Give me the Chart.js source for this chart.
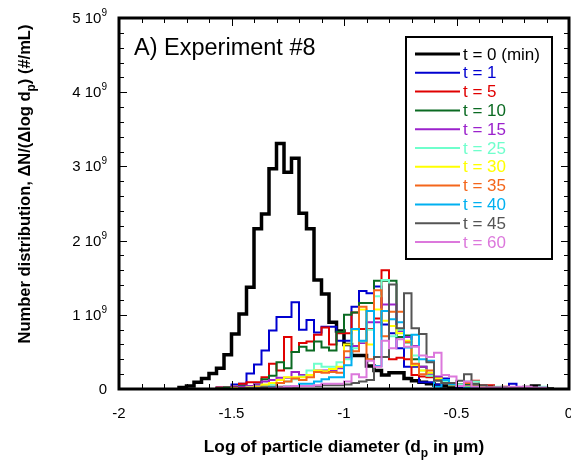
<!DOCTYPE html>
<html>
<head>
<meta charset="utf-8">
<script src="https://cdn.jsdelivr.net/npm/chart.js@4.4.0/dist/chart.umd.min.js"></script>
<style>
    body { margin: 0; background: #fff; }
    #wrap { width: 571px; height: 461px; }
</style>
</head>
<body>
<div id="wrap"><canvas id="psd-chart" width="571" height="461"></canvas></div>
<script>
// Size bins: 30 per decade of log(dp), first plotted bin starts at -1.7333
const firstBinLog = -2 + 8 / 30;
const binWidthLog = 1 / 30;

const xTicks = [-2, -1.5, -1, -0.5, 0];
const yTicks = [0, 1, 2, 3, 4, 5];   // x 10^9 #/mL

const seriesLabels = ['t = 0 (min)', 't = 1', 't = 5', 't = 10', 't = 15', 't = 25',
    't = 30', 't = 35', 't = 40', 't = 45', 't = 60'];
const seriesColors = ['#000000', '#0000d0', '#e00000', '#0b6a22', '#9b22cc', '#6fffcc',
    '#ffff00', '#f4661b', '#00b0f0', '#555555', '#dc78dc'];

// dN/dlog dp in 10^9 #/mL, one value per bin
const t0 = [0.02, 0.04, 0.09, 0.14, 0.21, 0.28, 0.46, 0.74, 1.01, 1.37,
    2.16, 2.36, 2.97, 3.31, 2.92, 3.11, 2.37, 2.16, 1.47, 1.28,
    0.90, 0.78, 0.60, 0.45, 0.45, 0.31, 0.25, 0.19, 0.22, 0.22,
    0.14, 0.11, 0.09, 0.07, 0.05, 0.04, 0.03, 0.03, 0.02, 0.02,
    0.02, 0.01, 0.01, 0.01, 0.01, 0.01, 0.02, 0.04, 0.01, 0];
const t1 = [0, 0, 0, 0, 0, 0.02, 0.02, 0.06, 0.07, 0.21,
    0.33, 0.52, 0.79, 0.97, 0.97, 1.17, 0.80, 0.93, 0.76, 0.84,
    0.84, 0.65, 0.65, 1.11, 1.32, 1.29, 1.38, 0.87, 0.75, 0.55,
    0.30, 0.30, 0.09, 0.09, 0.06, 0.14, 0.05, 0.03, 0.03, 0.02,
    0.01, 0.02, 0.01, 0.01, 0.07, 0.01, 0.01, 0, 0.01, 0];
const t5 = [0, 0, 0, 0, 0, 0.02, 0.02, 0.03, 0.07, 0.09,
    0.09, 0.16, 0.34, 0.25, 0.70, 0.50, 0.62, 0.64, 0.73, 0.83,
    0.60, 0.75, 0.75, 1.03, 0.81, 0.81, 0.95, 1.60, 0.40, 0.42,
    0.40, 0.19, 0.17, 0.16, 0.16, 0.10, 0.08, 0.06, 0.06, 0.11,
    0.05, 0.05, 0.02, 0.03, 0.02, 0.02, 0.02, 0.01, 0.01, 0];
const t10 = [0, 0, 0, 0, 0, 0.01, 0.02, 0.02, 0.04, 0.04,
    0.06, 0.13, 0.18, 0.36, 0.28, 0.50, 0.57, 0.52, 0.64, 0.56,
    0.52, 0.77, 1.00, 1.03, 1.16, 1.16, 1.46, 1.46, 1.46, 0.70,
    0.72, 0.40, 0.30, 0.20, 0.14, 0.10, 0.07, 0.06, 0.06, 0.05,
    0.04, 0.03, 0.02, 0.02, 0.02, 0.01, 0.01, 0.01, 0, 0];
const t15 = [0, 0, 0, 0, 0, 0, 0, 0.02, 0.03, 0.04,
    0.06, 0.10, 0.12, 0.15, 0.15, 0.23, 0.19, 0.19, 0.25, 0.25,
    0.25, 0.28, 0.42, 0.58, 0.62, 0.90, 0.90, 1.14, 1.14, 0.78,
    0.70, 0.58, 0.30, 0.20, 0.17, 0.12, 0.08, 0.05, 0.04, 0.03,
    0.02, 0.02, 0.01, 0.01, 0.01, 0.01, 0.01, 0.01, 0, 0];
const t25 = [0, 0, 0, 0, 0, 0, 0, 0, 0.01, 0.02,
    0.03, 0.05, 0.06, 0.08, 0.10, 0.13, 0.17, 0.25, 0.34, 0.30,
    0.30, 0.36, 0.40, 0.55, 0.64, 0.80, 1.25, 1.47, 0.71, 0.80,
    0.62, 0.45, 0.25, 0.18, 0.12, 0.10, 0.08, 0.06, 0.10, 0.10,
    0.04, 0.02, 0.03, 0.02, 0.01, 0.02, 0.02, 0.01, 0.03, 0];
const t30 = [0, 0, 0, 0, 0, 0, 0, 0.01, 0.01, 0.02,
    0.03, 0.06, 0.08, 0.12, 0.16, 0.16, 0.16, 0.19, 0.25, 0.24,
    0.27, 0.30, 0.60, 0.80, 1.07, 0.60, 1.07, 0.92, 0.85, 0.75,
    0.65, 0.32, 0.25, 0.22, 0.14, 0.08, 0.05, 0.04, 0.03, 0.03,
    0.02, 0.01, 0.01, 0.01, 0.01, 0.01, 0.01, 0.01, 0, 0];
const t35 = [0, 0, 0, 0, 0, 0, 0, 0, 0.01, 0.01,
    0.02, 0.03, 0.03, 0.08, 0.10, 0.14, 0.12, 0.16, 0.23, 0.22,
    0.23, 0.22, 0.51, 0.51, 1.11, 0.40, 1.33, 0.71, 1.04, 1.04,
    0.63, 0.34, 0.20, 0.25, 0.12, 0.08, 0.06, 0.04, 0.08, 0.03,
    0.02, 0.02, 0.01, 0.01, 0.01, 0.01, 0.01, 0.01, 0, 0];
const t40 = [0, 0, 0, 0, 0, 0, 0, 0, 0, 0,
    0.01, 0.02, 0.03, 0.02, 0.03, 0.04, 0.07, 0.07, 0.10, 0.13,
    0.16, 0.16, 0.32, 0.81, 0.65, 1.05, 0.31, 1.05, 0.94, 0.90,
    0.56, 0.73, 0.40, 0.38, 0.03, 0.12, 0.06, 0.04, 0.02, 0.02,
    0.01, 0.01, 0.01, 0.01, 0.01, 0.01, 0.01, 0.01, 0, 0];
const t45 = [0, 0, 0, 0, 0, 0, 0, 0, 0.01, 0.01,
    0.01, 0.02, 0.02, 0.03, 0.03, 0.03, 0.04, 0.04, 0.04, 0.05,
    0.05, 0.05, 0.06, 0.08, 0.10, 0.12, 0.43, 0.43, 1.41, 0.82,
    1.29, 0.82, 0.74, 0.36, 0.11, 0.08, 0.08, 0.11, 0.20, 0.07,
    0.05, 0.02, 0.02, 0.02, 0.02, 0.02, 0.01, 0.01, 0.01, 0];
const t60 = [0, 0, 0, 0, 0, 0, 0, 0, 0, 0,
    0, 0, 0.01, 0.02, 0.03, 0.04, 0.04, 0.04, 0.05, 0.07,
    0.07, 0.07, 0.10, 0.20, 0.16, 0.38, 0.30, 0.65, 0.55, 0.67,
    0.57, 0.57, 0.45, 0.43, 0.49, 0.19, 0.17, 0.04, 0.10, 0.03,
    0.02, 0.02, 0.02, 0.02, 0.03, 0.03, 0.03, 0.02, 0.02, 0];

const allSeries = [t0, t1, t5, t10, t15, t25, t30, t35, t40, t45, t60];

const FONT = '"Liberation Sans", Arial, sans-serif';

// histogram outline: one point at the left edge of each bin,
// Chart.js 'before' steps keep the bin's value up to the next edge
function toSteps(values) {
    const pts = [{ x: firstBinLog, y: 0 }];
    values.forEach((v, i) => pts.push({ x: firstBinLog + i * binWidthLog, y: v }));
    pts.push({ x: firstBinLog + values.length * binWidthLog, y: 0 });
    return pts;
}

// draws text with a sub/superscript piece, pieces = [[text, size, dy], ...]
function drawPieces(ctx, pieces, x, y, align, bold) {
    const w = pieces.map(p => {
        ctx.font = (bold ? 'bold ' : '') + p[1] + 'px ' + FONT;
        return ctx.measureText(p[0]).width;
    });
    const total = w.reduce((a, b) => a + b, 0);
    let cx = align === 'center' ? x - total / 2 : (align === 'right' ? x - total : x);
    ctx.textAlign = 'left';
    ctx.textBaseline = 'alphabetic';
    pieces.forEach((p, i) => {
        ctx.font = (bold ? 'bold ' : '') + p[1] + 'px ' + FONT;
        ctx.fillText(p[0], cx, y + p[2]);
        cx += w[i];
    });
}

const framePlugin = {
    id: 'frame',
    afterDatasetsDraw(chart) {
        const ctx = chart.ctx;
        const { left, right, top, bottom } = chart.chartArea;
        const xs = chart.scales.x, ys = chart.scales.y;
        ctx.save();
        ctx.strokeStyle = '#000';
        ctx.lineWidth = 1;
        ctx.beginPath();
        for (let i = 0; i <= 25; i++) {
            const y = Math.round(ys.getPixelForValue(i * 0.2)) + 0.5;
            const len = i % 5 === 0 ? 8 : 5;
            ctx.moveTo(left, y); ctx.lineTo(left + len, y);
            ctx.moveTo(right, y); ctx.lineTo(right - len, y);
        }
        for (let i = 0; i <= 20; i++) {
            const x = Math.round(xs.getPixelForValue(-2 + i * 0.1)) + 0.5;
            const len = i % 5 === 0 ? 8 : 5;
            ctx.moveTo(x, bottom); ctx.lineTo(x, bottom - len);
            ctx.moveTo(x, top); ctx.lineTo(x, top + len);
        }
        ctx.stroke();
        ctx.lineWidth = 3;
        ctx.strokeRect(left, top, right - left, bottom - top);

        // y tick labels with power of ten
        ctx.fillStyle = '#000';
        yTicks.forEach(v => {
            const y = ys.getPixelForValue(v) + 5;
            if (v === 0) {
                drawPieces(ctx, [['0', 15, 0]], 107, y, 'right', false);
            } else {
                drawPieces(ctx, [[v + ' 10', 15, 0], ['9', 10, -7]], 107, y, 'right', false);
            }
        });

        // panel label
        ctx.font = '23.5px ' + FONT;
        ctx.textAlign = 'left';
        ctx.textBaseline = 'middle';
        ctx.fillText('A) Experiment #8', 134, 49);

        // axis titles
        drawPieces(ctx, [['Log of particle diameter (d', 17.3, 0], ['p', 12, 5], [' in \u00b5m)', 17.3, 0]],
            344, 452, 'center', true);
        ctx.save();
        ctx.translate(30, 184);
        ctx.rotate(-Math.PI / 2);
        drawPieces(ctx, [['Number distribution, \u0394N/(\u0394log d', 16.5, 0], ['p', 12, 5], [') (#/mL)', 16.5, 0]],
            0, 0, 'center', true);
        ctx.restore();

        // legend box
        const lx = 406, ly = 37, lw = 146, lh = 222;
        ctx.fillStyle = '#fff';
        ctx.fillRect(lx, ly, lw, lh);
        ctx.lineWidth = 2;
        ctx.strokeStyle = '#000';
        ctx.strokeRect(lx, ly, lw, lh);
        seriesLabels.forEach((lab, i) => {
            const y = 54 + i * 18.8;
            ctx.strokeStyle = seriesColors[i];
            ctx.lineWidth = i === 0 ? 3 : 2;
            ctx.beginPath();
            ctx.moveTo(415, y); ctx.lineTo(460, y);
            ctx.stroke();
            ctx.fillStyle = seriesColors[i];
            ctx.font = '17px ' + FONT;
            ctx.textAlign = 'left';
            ctx.textBaseline = 'middle';
            ctx.fillText(lab, 463, y + 1);
        });
        ctx.restore();
    }
};

function loadChart() {
    const el = document.getElementById('psd-chart');
    if (!el) return;

    const datasets = allSeries.map((vals, i) => ({
        label: seriesLabels[i],
        data: toSteps(vals),
        borderColor: seriesColors[i],
        backgroundColor: seriesColors[i],
        borderWidth: i === 0 ? 3.5 : 2,
        pointRadius: 0,
        stepped: 'before',
        fill: false,
        order: allSeries.length - i
    }));

    new Chart(el.getContext('2d'), {
        type: 'line',
        data: { datasets: datasets },
        options: {
            responsive: false,
            animation: false,
            layout: { padding: { top: 18, right: 2, left: 0, bottom: 0 } },
            plugins: {
                legend: { display: false },
                tooltip: { enabled: false }
            },
            scales: {
                x: {
                    type: 'linear',
                    min: -2,
                    max: 0,
                    afterBuildTicks: s => { s.ticks = xTicks.map(v => ({ value: v })); },
                    afterFit: s => { s.height = 72; s.paddingLeft = 0; s.paddingRight = 0; },
                    grid: { display: false, drawTicks: false },
                    border: { display: false },
                    ticks: {
                        padding: 16,
                        maxRotation: 0,
                        color: '#000',
                        font: { family: FONT, size: 15 },
                        callback: v => String(v)
                    }
                },
                y: {
                    min: 0,
                    max: 5,
                    afterFit: s => { s.width = 119; },
                    grid: { display: false, drawTicks: false },
                    border: { display: false },
                    ticks: { display: false }
                }
            }
        },
        plugins: [framePlugin]
    });
}

loadChart();
</script>
</body>
</html>
